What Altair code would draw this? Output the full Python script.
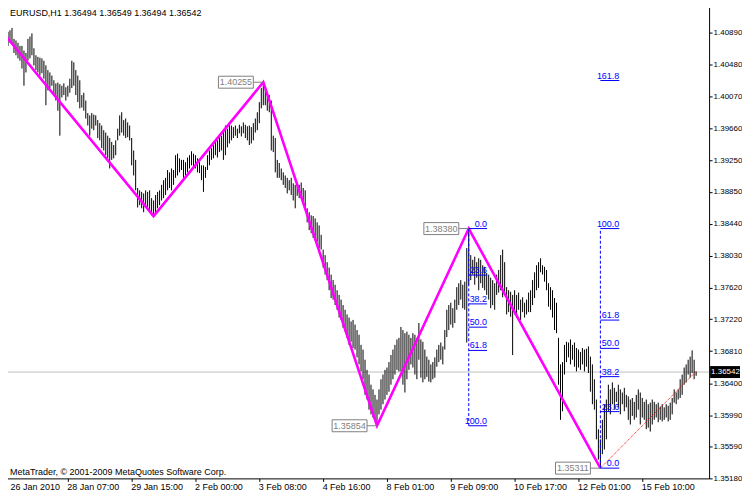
import json
import altair as alt
import pandas as pd

# ---------------- data ----------------
highs = [
    1.4085, 1.4081, 1.4090, 1.4092, 1.4095, 1.4081, 1.4079, 1.4076, 1.4072, 1.4072,
    1.4066, 1.4063, 1.4081, 1.4084, 1.4088, 1.4069, 1.4060, 1.4058, 1.4057, 1.4056,
    1.4053, 1.4047, 1.4041, 1.4038, 1.4034, 1.4028, 1.4024, 1.4025, 1.4023, 1.4021,
    1.4024, 1.4019, 1.4021, 1.4030, 1.4053, 1.4051, 1.4041, 1.4034, 1.4028, 1.4009,
    1.4012, 1.4002, 1.3986, 1.3983, 1.3986, 1.3984, 1.3983, 1.3977, 1.3973, 1.3970,
    1.3964, 1.3961, 1.3957, 1.3954, 1.3949, 1.3945, 1.3951, 1.3966, 1.3983, 1.3987,
    1.3977, 1.3979, 1.3974, 1.3970, 1.3954, 1.3938, 1.3926, 1.3890, 1.3887, 1.3885,
    1.3883, 1.3887, 1.3885, 1.3887, 1.3877, 1.3874, 1.3881, 1.3885, 1.3887, 1.3894,
    1.3900, 1.3903, 1.3913, 1.3910, 1.3915, 1.3913, 1.3932, 1.3934, 1.3928, 1.3926,
    1.3926, 1.3923, 1.3929, 1.3932, 1.3937, 1.3934, 1.3932, 1.3928, 1.3923, 1.3919,
    1.3919, 1.3917, 1.3932, 1.3938, 1.3941, 1.3945, 1.3951, 1.3951, 1.3955, 1.3957,
    1.3964, 1.3970, 1.3966, 1.3974, 1.3970, 1.3968, 1.3970, 1.3966, 1.3971, 1.3969,
    1.3974, 1.3971, 1.3969, 1.3970, 1.3968, 1.3973, 1.3979, 1.3987, 1.4000, 1.4018,
    1.40255, 1.4018, 1.4012, 1.4009, 1.4002, 1.3957, 1.3954, 1.3926, 1.3922, 1.3915,
    1.3910, 1.3906, 1.3903, 1.3900, 1.3903, 1.3896, 1.3894, 1.3896, 1.3894, 1.3897,
    1.3890, 1.3887, 1.3864, 1.3859, 1.3855, 1.3854, 1.3851, 1.3846, 1.3842, 1.3830,
    1.3811, 1.3804, 1.3795, 1.3788, 1.3779, 1.3772, 1.3766, 1.3759, 1.3753, 1.3747,
    1.3740, 1.3734, 1.3728, 1.3724, 1.3719, 1.3721, 1.3715, 1.3708, 1.3702, 1.3689,
    1.3683, 1.3670, 1.3657, 1.3651, 1.3638, 1.3632, 1.3625, 1.3619, 1.3632, 1.3645,
    1.3651, 1.3657, 1.3660, 1.3667, 1.3676, 1.3683, 1.3689, 1.3696, 1.3698, 1.3712,
    1.3708, 1.3704, 1.3706, 1.3702, 1.3698, 1.3704, 1.3702, 1.3698, 1.3717, 1.3696,
    1.3693, 1.3683, 1.3674, 1.3670, 1.3664, 1.3667, 1.3673, 1.3683, 1.3689, 1.3692,
    1.3687, 1.3708, 1.3734, 1.3740, 1.3743, 1.3736, 1.3747, 1.3763, 1.3768, 1.3772,
    1.3766, 1.3770, 1.3813, 1.3838, 1.3804, 1.3798, 1.3802, 1.3795, 1.3800, 1.3798,
    1.3791, 1.3789, 1.3781, 1.3779, 1.3775, 1.3772, 1.3768, 1.3779, 1.3785, 1.3804,
    1.3811, 1.3795, 1.3763, 1.3759, 1.3757, 1.3753, 1.3759, 1.3753, 1.3756, 1.3747,
    1.3750, 1.3743, 1.3747, 1.3756, 1.3759, 1.3772, 1.3782, 1.3791, 1.3795, 1.3800,
    1.3791, 1.3789, 1.3785, 1.3768, 1.3763, 1.3759, 1.3749, 1.3743, 1.3698, 1.3664,
    1.3667, 1.3689, 1.3693, 1.3692, 1.3696, 1.3689, 1.3692, 1.3685, 1.3683, 1.3680,
    1.3685, 1.3683, 1.3684, 1.3687, 1.3674, 1.3664, 1.3645, 1.3619, 1.3581, 1.3568,
    1.3593, 1.3613, 1.3619, 1.3638, 1.3632, 1.3641, 1.3634, 1.3629, 1.3638, 1.3632,
    1.3628, 1.3634, 1.3625, 1.3623, 1.3619, 1.3621, 1.3616, 1.3625, 1.3632, 1.3628,
    1.3621, 1.3616, 1.3619, 1.3613, 1.3615, 1.3619, 1.3616, 1.3613, 1.3615, 1.3610,
    1.3613, 1.3609, 1.3613, 1.3611, 1.3615, 1.3621, 1.3632, 1.3628, 1.3632, 1.3645,
    1.3651, 1.3660, 1.3664, 1.3670, 1.3674, 1.3682, 1.3670, 1.36549,
]
lows = [
    1.4069, 1.4063, 1.4072, 1.4076, 1.4074, 1.4063, 1.4060, 1.4056, 1.4053, 1.4043,
    1.4021, 1.4038, 1.4053, 1.4056, 1.4060, 1.4047, 1.4041, 1.4038, 1.4034, 1.4037,
    1.4030, 1.3996, 1.4015, 1.4018, 1.4021, 1.4009, 1.4002, 1.3989, 1.3957, 1.4006,
    1.4009, 1.4002, 1.4007, 1.4012, 1.4018, 1.4021, 1.4009, 1.4000, 1.3992, 1.3993,
    1.3989, 1.3979, 1.3970, 1.3957, 1.3966, 1.3964, 1.3970, 1.3954, 1.3951, 1.3941,
    1.3938, 1.3932, 1.3928, 1.3915, 1.3926, 1.3928, 1.3932, 1.3951, 1.3957, 1.3961,
    1.3957, 1.3954, 1.3955, 1.3951, 1.3919, 1.3906, 1.3887, 1.3865, 1.3868, 1.3864,
    1.3859, 1.3865, 1.3862, 1.3858, 1.3855, 1.3854, 1.3859, 1.3864, 1.3868, 1.3874,
    1.3877, 1.3881, 1.3887, 1.3890, 1.3887, 1.3894, 1.3903, 1.3906, 1.3910, 1.3913,
    1.3903, 1.3906, 1.3910, 1.3915, 1.3919, 1.3917, 1.3915, 1.3910, 1.3909, 1.3900,
    1.3885, 1.3903, 1.3913, 1.3919, 1.3926, 1.3928, 1.3932, 1.3929, 1.3936, 1.3938,
    1.3926, 1.3932, 1.3942, 1.3947, 1.3951, 1.3954, 1.3957, 1.3954, 1.3960, 1.3956,
    1.3960, 1.3954, 1.3951, 1.3945, 1.3947, 1.3951, 1.3961, 1.3964, 1.3973, 1.3992,
    1.3996, 1.3996, 1.3989, 1.3987, 1.3938, 1.3936, 1.3910, 1.3903, 1.3903, 1.3900,
    1.3894, 1.3890, 1.3883, 1.3887, 1.3881, 1.3874, 1.3864, 1.3880, 1.3877, 1.3881,
    1.3871, 1.3864, 1.3846, 1.3836, 1.3832, 1.3826, 1.3823, 1.3821, 1.3813, 1.3811,
    1.3788, 1.3779, 1.3772, 1.3759, 1.3749, 1.3747, 1.3740, 1.3734, 1.3724, 1.3721,
    1.3711, 1.3706, 1.3698, 1.3689, 1.3693, 1.3685, 1.3683, 1.3673, 1.3664, 1.3655,
    1.3645, 1.3625, 1.3619, 1.3606, 1.3600, 1.3596, 1.3593, 1.35854, 1.3600, 1.3606,
    1.3613, 1.3619, 1.3625, 1.3629, 1.3638, 1.3645, 1.3651, 1.3657, 1.3655, 1.3655,
    1.3638, 1.3628, 1.3645, 1.3657, 1.3664, 1.3660, 1.3651, 1.3645, 1.3670, 1.3647,
    1.3641, 1.3645, 1.3648, 1.3642, 1.3641, 1.3645, 1.3647, 1.3661, 1.3667, 1.3670,
    1.3664, 1.3683, 1.3699, 1.3708, 1.3715, 1.3711, 1.3717, 1.3734, 1.3740, 1.3747,
    1.3736, 1.3734, 1.3692, 1.3766, 1.3772, 1.3779, 1.3766, 1.3775, 1.3759, 1.3768,
    1.3762, 1.3759, 1.3753, 1.3747, 1.3736, 1.3740, 1.3734, 1.3753, 1.3756, 1.3759,
    1.3750, 1.3757, 1.3728, 1.3731, 1.3725, 1.3676, 1.3728, 1.3724, 1.3734, 1.3721,
    1.3731, 1.3724, 1.3728, 1.3731, 1.3731, 1.3740, 1.3749, 1.3759, 1.3762, 1.3782,
    1.3779, 1.3770, 1.3759, 1.3738, 1.3734, 1.3724, 1.3708, 1.3704, 1.3638, 1.3593,
    1.3604, 1.3651, 1.3667, 1.3673, 1.3664, 1.3670, 1.3661, 1.3655, 1.3660, 1.3657,
    1.3664, 1.3655, 1.3661, 1.3653, 1.3629, 1.3613, 1.3606, 1.3568, 1.3542, 1.35311,
    1.3549, 1.3555, 1.3568, 1.3604, 1.3600, 1.3613, 1.3606, 1.3616, 1.3609, 1.3600,
    1.3613, 1.3604, 1.3609, 1.3593, 1.3587, 1.3598, 1.3593, 1.3596, 1.3606, 1.3587,
    1.3596, 1.3593, 1.3581, 1.3583, 1.3578, 1.3587, 1.3593, 1.3596, 1.3590, 1.3593,
    1.3591, 1.3593, 1.3596, 1.3591, 1.3593, 1.3600, 1.3615, 1.3613, 1.3619, 1.3621,
    1.3625, 1.3638, 1.3641, 1.3651, 1.3647, 1.3653, 1.3645, 1.36494,
]

time_label_bars = [0, 32, 64, 96, 128, 160, 192, 224, 256, 288, 320]
time_labels = ["26 Jan 2010", "28 Jan 07:00", "29 Jan 15:00", "2 Feb 00:00",
               "3 Feb 08:00", "4 Feb 16:00", "8 Feb 01:00", "9 Feb 09:00",
               "10 Feb 17:00", "12 Feb 01:00", "15 Feb 10:00"]
price_ticks = [1.40890, 1.40480, 1.40070, 1.39660, 1.39250, 1.38850, 1.38440,
               1.38030, 1.37620, 1.37220, 1.36810, 1.36400, 1.35990, 1.35590,
               1.35180]

zz_bars = [-0.5, 75, 130, 187, 233, 299]
zz_prices = [1.4089, 1.3854, 1.40255, 1.35854, 1.38380, 1.35311]

marked_bars = [130, 187, 233, 299]
marked_prices = [1.40255, 1.35854, 1.38380, 1.35311]
marked_labels = ["1.40255", "1.35854", "1.38380", "1.35311"]

trend_bars = [299, 347]
trend_prices = [1.35311, 1.3655]

fib_labels_1 = ["0.0", "23.6", "38.2", "50.0", "61.8", "100.0"]
fib_labels_2 = ["0.0", "23.6", "38.2", "50.0", "61.8", "100.0", "161.8"]
fib1_bar, fib1_end, fib1_p0, fib1_p100 = 233, 242.2, 1.38380, 1.35854
fib2_bar, fib2_end, fib2_p0, fib2_p100 = 299, 308.5, 1.35311, 1.38380

bid = 1.36542
bid_label = "1.36542"
title_text = "EURUSD,H1  1.36494 1.36549 1.36494 1.36542"
copyright_text = "MetaTrader, \u00a9 2001-2009 MetaQuotes Software Corp."

# ---------------- tables ----------------
bars_df = pd.DataFrame({"idx": list(range(len(highs))), "high": highs, "low": lows})
zz_df = pd.DataFrame({"idx": zz_bars, "price": zz_prices})
box_df = pd.DataFrame({"idx": marked_bars, "price": marked_prices, "label": marked_labels})
trend_df = pd.DataFrame({"idx": trend_bars, "price": trend_prices})


def fib_rows(start, end, p0, p100, labels):
    return [{"idx": start, "end": end, "label": lab,
             "price": p0 + (p100 - p0) * float(lab) / 100.0} for lab in labels]


fib_df = pd.DataFrame(fib_rows(fib1_bar, fib1_end, fib1_p0, fib1_p100, fib_labels_1)
                      + fib_rows(fib2_bar, fib2_end, fib2_p0, fib2_p100, fib_labels_2))
fibv_df = pd.DataFrame({"idx": [fib1_bar, fib2_bar], "p0": [fib1_p0, fib2_p0],
                        "p100": [fib1_p100, fib2_p100]})
bid_df = pd.DataFrame({"price": [bid]})
one_df = pd.DataFrame({"a": [0]})

# ---------------- styling ----------------
W, H = 709, 476
FONT = "Liberation Sans, Arial, sans-serif"
FS = 9
FSY = 8

xscale = alt.Scale(domain=[-1.0, 353.5], nice=False, zero=False)
yscale = alt.Scale(domain=[1.35180, 1.41261], nice=False, zero=False)
label_expr = json.dumps(time_labels) + "[round(datum.value / 32)]"

xaxis = alt.Axis(values=time_label_bars, labelExpr=label_expr, title=None, grid=False,
                 tickSize=3, tickColor="black", domainColor="black",
                 labelAlign="left", labelBaseline="top", labelPadding=1,
                 labelOffset={"condition": {"test": "datum.value == 0", "value": 6}, "value": -1},
                 labelFont=FONT, labelFontSize=FS, labelColor="black",
                 labelOverlap=False, labelFlush=False)
yaxis = alt.Axis(orient="right", values=price_ticks, format=".5f", title=None, grid=False,
                 tickSize=3, tickColor="black", domainColor="black",
                 labelAlign="left", labelBaseline="middle", labelPadding=1,
                 labelFont=FONT, labelFontSize=FSY, labelColor="black",
                 labelOverlap=False, labelFlush=False)


def X(f):
    return alt.X(f + ":Q", scale=xscale, axis=xaxis)


def Y(f):
    return alt.Y(f + ":Q", scale=yscale, axis=yaxis)


bid_line = alt.Chart(bid_df).mark_rule(color="#C0C0C0", strokeWidth=1).encode(y=Y("price"))

bars = alt.Chart(bars_df).mark_rule(color="black", strokeWidth=1).encode(
    x=X("idx"), y=Y("low"), y2="high")

zigzag = alt.Chart(zz_df).mark_line(color="#FF00FF", strokeWidth=2.6, clip=True).encode(
    x=X("idx"), y=Y("price"))

trend = alt.Chart(trend_df).mark_line(color="#FF0000", strokeWidth=1, strokeDash=[1, 1]).encode(
    x=X("idx"), y=Y("price"))

fib_vert = alt.Chart(fibv_df).mark_rule(color="#0000FF", strokeWidth=1, strokeDash=[3, 2]).encode(
    x=X("idx"), y=Y("p0"), y2="p100")

fib_lines = alt.Chart(fib_df).mark_rule(color="#0000FF", strokeWidth=1).encode(
    x=X("idx"), x2="end", y=Y("price"))

fib_text = alt.Chart(fib_df).mark_text(color="#0000FF", align="right", baseline="bottom",
                                       font=FONT, fontSize=FS, dy=0).encode(
    x=X("end"), y=Y("price"), text="label:N")

box_link = alt.Chart(box_df).mark_rule(color="#808080", strokeWidth=1, xOffset=-10).encode(
    x=X("idx"), x2="idx", y=Y("price"))

box_rect = alt.Chart(box_df).mark_rect(fill="white", stroke="#808080", strokeWidth=1,
                                       xOffset=-45, x2Offset=-10, yOffset=-6, y2Offset=6).encode(
    x=X("idx"), x2="idx", y=Y("price"), y2="price")

box_text = alt.Chart(box_df).mark_text(color="#808080", align="center", baseline="middle",
                                       font=FONT, fontSize=FS, dx=-27.5).encode(
    x=X("idx"), y=Y("price"), text="label:N")

title_mark = alt.Chart(one_df).mark_text(align="left", baseline="top", color="black",
                                         font=FONT, fontSize=FS).encode(
    x=alt.value(8), y=alt.value(5), text=alt.value(title_text))

copyright_mark = alt.Chart(one_df).mark_text(align="left", baseline="bottom", color="black",
                                             font=FONT, fontSize=FS).encode(
    x=alt.value(8), y=alt.value(475), text=alt.value(copyright_text))

bid_box = alt.Chart(bid_df).mark_rect(color="black", yOffset=-6, y2Offset=6).encode(
    x=alt.value(W + 1), x2=alt.value(W + 31), y=Y("price"), y2="price")

bid_text = alt.Chart(bid_df).mark_text(color="white", align="left", baseline="middle",
                                       font=FONT, fontSize=FSY).encode(
    x=alt.value(W + 2), y=Y("price"), text=alt.value(bid_label))

chart = alt.layer(
    bid_line, bars, zigzag, trend, fib_vert, fib_lines, fib_text,
    box_link, box_rect, box_text, title_mark, copyright_mark, bid_box, bid_text,
).properties(
    width=W, height=H,
    padding={"left": -7, "top": -5, "right": 0, "bottom": 0},
).configure(background="white").configure_view(stroke="black", strokeWidth=0)

chart.save("out.html", embed_options={"renderer": "svg", "actions": False})
